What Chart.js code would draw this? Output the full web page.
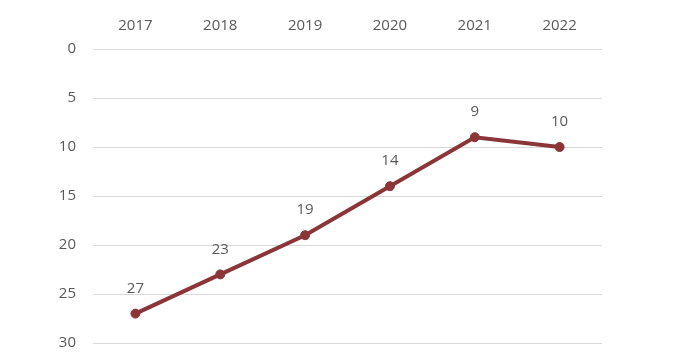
<!DOCTYPE html>
<html>
<head>
<meta charset="utf-8">
<script src="https://cdn.jsdelivr.net/npm/chart.js@4"></script>
<style>
  html, body { margin: 0; padding: 0; background: #fff; }
</style>
</head>
<body>
<canvas id="chart" width="683" height="362"></canvas>
<script>
var years = ["2017", "2018", "2019", "2020", "2021", "2022"];
var ranks = [27, 23, 19, 14, 9, 10];
var yTicks = [0, 5, 10, 15, 20, 25, 30];

var lineColor = "#8b3538";
var textColor = "#595959";

// etiquetas encima de cada punto
var pointLabels = {
    id: "pointLabels",
    afterDatasetsDraw: function (chart) {
        var ctx = chart.ctx;
        var meta = chart.getDatasetMeta(0);
        ctx.save();
        ctx.font = "15px 'Open Sans', sans-serif";
        ctx.fillStyle = textColor;
        ctx.textAlign = "center";
        ctx.textBaseline = "middle";
        meta.data.forEach(function (pt, i) {
            ctx.fillText(String(ranks[i]), pt.x, pt.y - 25);
        });
        ctx.restore();
    }
};

new Chart(document.getElementById("chart").getContext("2d"), {
    type: "line",
    data: {
        labels: years,
        datasets: [{
            data: ranks,
            borderColor: lineColor,
            backgroundColor: lineColor,
            borderWidth: 4,
            pointRadius: 4.5,
            pointBorderWidth: 1,
            pointBackgroundColor: lineColor,
            pointBorderColor: lineColor,
            tension: 0
        }]
    },
    options: {
        responsive: false,
        animation: false,
        layout: { padding: { left: 0, right: 81, top: 0, bottom: 19 } },
        plugins: {
            legend: { display: false },
            tooltip: { enabled: false }
        },
        scales: {
            x: {
                position: "top",
                offset: true,
                grid: { display: false },
                border: { display: false },
                ticks: {
                    color: textColor,
                    font: { family: "'Open Sans', sans-serif", size: 15 },
                    padding: 6
                },
                afterFit: function (axis) { axis.height = 49; }
            },
            y: {
                reverse: true,
                min: 0,
                max: 30,
                afterBuildTicks: function (axis) {
                    axis.ticks = yTicks.map(function (v) { return { value: v }; });
                },
                grid: { color: "#d9d9d9", lineWidth: 1, drawTicks: false },
                border: { display: false },
                ticks: {
                    color: textColor,
                    font: { family: "'Open Sans', sans-serif", size: 15 },
                    padding: 17
                },
                afterFit: function (axis) {
                    axis.width = 93;
                    axis.paddingTop = 0;
                    axis.paddingBottom = 0;
                }
            }
        }
    },
    plugins: [pointLabels]
});
</script>
</body>
</html>
